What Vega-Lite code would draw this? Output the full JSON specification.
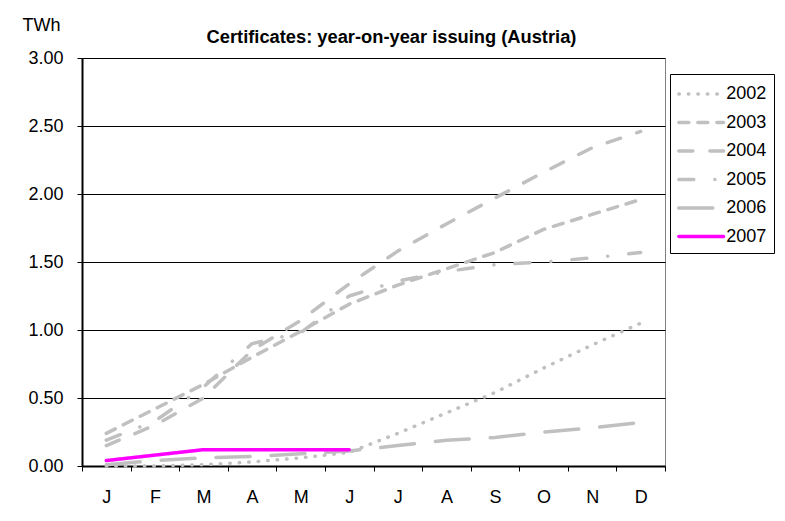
{
  "$schema": "https://vega.github.io/schema/vega-lite/v6.json",
  "width": 583,
  "height": 408,
  "autosize": {"type": "none"},
  "padding": {"left": 82, "top": 58, "right": 120, "bottom": 55},
  "background": "white",
  "title": {
    "text": "Certificates: year-on-year issuing (Austria)",
    "font": "Liberation Sans",
    "fontSize": 18.3,
    "fontWeight": "bold",
    "color": "black",
    "anchor": "middle",
    "dx": 18,
    "offset": -31
  },
  "data": {
    "values": [
      {"year": "2002", "month": "Jan", "value": 0.0},
      {"year": "2002", "month": "Feb", "value": 0.0},
      {"year": "2002", "month": "Mar", "value": 0.01},
      {"year": "2002", "month": "Apr", "value": 0.03},
      {"year": "2002", "month": "May", "value": 0.06},
      {"year": "2002", "month": "Jun", "value": 0.10},
      {"year": "2002", "month": "Jul", "value": 0.24},
      {"year": "2002", "month": "Aug", "value": 0.39},
      {"year": "2002", "month": "Sep", "value": 0.54},
      {"year": "2002", "month": "Oct", "value": 0.72},
      {"year": "2002", "month": "Nov", "value": 0.89},
      {"year": "2002", "month": "Dec", "value": 1.05},
      {"year": "2003", "month": "Jan", "value": 0.24},
      {"year": "2003", "month": "Feb", "value": 0.42},
      {"year": "2003", "month": "Mar", "value": 0.60},
      {"year": "2003", "month": "Apr", "value": 0.80},
      {"year": "2003", "month": "May", "value": 0.99},
      {"year": "2003", "month": "Jun", "value": 1.19},
      {"year": "2003", "month": "Jul", "value": 1.33},
      {"year": "2003", "month": "Aug", "value": 1.45},
      {"year": "2003", "month": "Sep", "value": 1.57},
      {"year": "2003", "month": "Oct", "value": 1.74},
      {"year": "2003", "month": "Nov", "value": 1.85},
      {"year": "2003", "month": "Dec", "value": 1.96},
      {"year": "2004", "month": "Jan", "value": 0.15},
      {"year": "2004", "month": "Feb", "value": 0.30},
      {"year": "2004", "month": "Mar", "value": 0.50},
      {"year": "2004", "month": "Apr", "value": 0.85},
      {"year": "2004", "month": "May", "value": 1.07},
      {"year": "2004", "month": "Jun", "value": 1.34},
      {"year": "2004", "month": "Jul", "value": 1.58},
      {"year": "2004", "month": "Aug", "value": 1.78},
      {"year": "2004", "month": "Sep", "value": 1.97},
      {"year": "2004", "month": "Oct", "value": 2.16},
      {"year": "2004", "month": "Nov", "value": 2.34},
      {"year": "2004", "month": "Dec", "value": 2.46},
      {"year": "2005", "month": "Jan", "value": 0.19},
      {"year": "2005", "month": "Feb", "value": 0.33},
      {"year": "2005", "month": "Mar", "value": 0.58},
      {"year": "2005", "month": "Apr", "value": 0.90},
      {"year": "2005", "month": "May", "value": 0.98},
      {"year": "2005", "month": "Jun", "value": 1.25},
      {"year": "2005", "month": "Jul", "value": 1.36},
      {"year": "2005", "month": "Aug", "value": 1.43},
      {"year": "2005", "month": "Sep", "value": 1.48},
      {"year": "2005", "month": "Oct", "value": 1.50},
      {"year": "2005", "month": "Nov", "value": 1.53},
      {"year": "2005", "month": "Dec", "value": 1.57},
      {"year": "2006", "month": "Jan", "value": 0.01},
      {"year": "2006", "month": "Feb", "value": 0.04},
      {"year": "2006", "month": "Mar", "value": 0.06},
      {"year": "2006", "month": "Apr", "value": 0.07},
      {"year": "2006", "month": "May", "value": 0.09},
      {"year": "2006", "month": "Jun", "value": 0.11},
      {"year": "2006", "month": "Jul", "value": 0.15},
      {"year": "2006", "month": "Aug", "value": 0.19},
      {"year": "2006", "month": "Sep", "value": 0.21},
      {"year": "2006", "month": "Oct", "value": 0.25},
      {"year": "2006", "month": "Nov", "value": 0.28},
      {"year": "2006", "month": "Dec", "value": 0.32},
      {"year": "2007", "month": "Jan", "value": 0.04},
      {"year": "2007", "month": "Feb", "value": 0.08},
      {"year": "2007", "month": "Mar", "value": 0.12},
      {"year": "2007", "month": "Apr", "value": 0.12},
      {"year": "2007", "month": "May", "value": 0.12},
      {"year": "2007", "month": "Jun", "value": 0.12}
    ]
  },
  "mark": {"type": "line", "strokeWidth": 3.5, "strokeCap": "round", "strokeJoin": "round"},
  "encoding": {
    "x": {
      "field": "month",
      "type": "ordinal",
      "scale": {
        "type": "band",
        "domain": ["Jan", "Feb", "Mar", "Apr", "May", "Jun", "Jul", "Aug", "Sep", "Oct", "Nov", "Dec"],
        "paddingInner": 0,
        "paddingOuter": 0
      },
      "axis": {
        "title": null,
        "labelExpr": "slice(datum.label, 0, 1)",
        "labelAngle": 0,
        "labelFont": "Liberation Sans",
        "labelFontSize": 18,
        "labelColor": "black",
        "labelPadding": 17,
        "tickBand": "extent",
        "tickSize": 5,
        "tickColor": "black",
        "tickWidth": 1,
        "domainColor": "black",
        "domainWidth": 2,
        "grid": false
      }
    },
    "y": {
      "field": "value",
      "type": "quantitative",
      "scale": {"domain": [0, 3], "nice": false, "zero": true},
      "axis": {
        "values": [0, 0.5, 1, 1.5, 2, 2.5, 3],
        "format": ".2f",
        "title": "TWh",
        "titleAngle": 0,
        "titleX": -60,
        "titleY": -33,
        "titleAlign": "left",
        "titleBaseline": "middle",
        "titleFont": "Liberation Sans",
        "titleFontSize": 18,
        "titleFontWeight": "normal",
        "titleColor": "black",
        "labelFont": "Liberation Sans",
        "labelFontSize": 18,
        "labelColor": "black",
        "labelPadding": 14,
        "tickSize": 5,
        "tickColor": "black",
        "domainColor": "black",
        "domainWidth": 2,
        "grid": true,
        "gridColor": "black",
        "gridWidth": 1,
        "gridOpacity": 1
      }
    },
    "color": {
      "field": "year",
      "type": "nominal",
      "scale": {
        "domain": ["2002", "2003", "2004", "2005", "2006", "2007"],
        "range": ["#C0C0C0", "#C0C0C0", "#C0C0C0", "#C0C0C0", "#C0C0C0", "#FF00FF"]
      },
      "legend": {
        "title": null,
        "orient": "none",
        "legendX": 588,
        "legendY": 16,
        "strokeColor": "black",
        "fillColor": "white",
        "padding": 7,
        "rowPadding": 6.5,
        "symbolType": "M-2,0L2,0",
        "symbolSize": 500,
        "symbolOffset": 11.2,
        "symbolStrokeWidth": 3.5,
        "labelFont": "Liberation Sans",
        "labelFontSize": 18,
        "labelColor": "black",
        "labelOffset": 12,
        "encode": {"symbols": {"update": {"strokeCap": {"value": "round"}}}}
      }
    },
    "strokeDash": {
      "field": "year",
      "type": "nominal",
      "scale": {
        "domain": ["2002", "2003", "2004", "2005", "2006", "2007"],
        "range": [[0.5, 9], [10, 9], [14, 17], [15, 21, 0.1, 21], [34, 21], [1, 0]]
      }
    }
  },
  "config": {
    "view": {"stroke": "#808080", "strokeWidth": 1}
  }
}
